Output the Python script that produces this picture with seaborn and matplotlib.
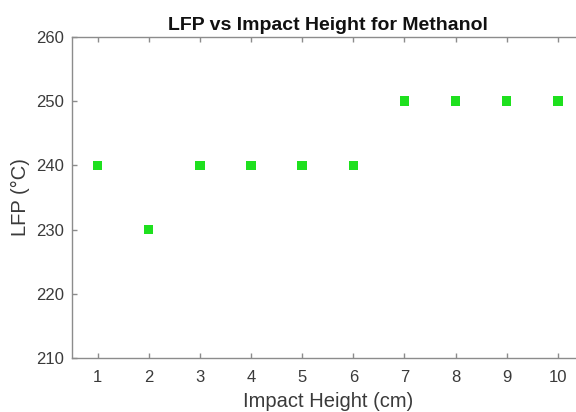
import matplotlib
matplotlib.use("Agg")
import matplotlib.pyplot as plt
import seaborn as sns
import pandas as pd

heights = [1, 2, 3, 4, 5, 6, 7, 8, 9, 10]
lfp = [240, 230, 240, 240, 240, 240, 250, 250, 250, 250]
x_ticks = [1, 2, 3, 4, 5, 6, 7, 8, 9, 10]
y_ticks = [210, 220, 230, 240, 250, 260]

sns.set_style("white")
plt.rcParams['font.family'] = ['Liberation Sans', 'DejaVu Sans']

df = pd.DataFrame({"h": heights, "lfp": lfp})

fig = plt.figure(figsize=(5.76, 4.12), dpi=100)
ax = fig.add_axes([72/576, 1-358/412, (583.5-72)/576, (358-37)/412])

sns.scatterplot(data=df, x="h", y="lfp", marker="s", s=46, color="#1ee01e",
                edgecolor="none", linewidth=0, ax=ax)

ax.set_xlim(0.5, 10.5)
ax.set_ylim(210, 260)
ax.set_xticks(x_ticks)
ax.set_yticks(y_ticks)

spine_c = "#8c8c8c"
for s in ax.spines.values():
    s.set_color(spine_c)
    s.set_linewidth(1.0)
ax.spines["right"].set_visible(False)
ax.tick_params(direction="in", length=3.5, width=1, color=spine_c,
               labelsize=12, labelcolor="#3a3a3a", top=True, right=False,
               bottom=True, left=True)
ax.tick_params(axis="x", pad=9)
ax.tick_params(axis="y", pad=6)

ax.set_xlabel("Impact Height (cm)", fontsize=14.5, color="#3a3a3a", labelpad=5)
ax.set_ylabel("LFP (°C)", fontsize=14.5, color="#3a3a3a", labelpad=4)
ax.set_title("LFP vs Impact Height for Methanol", fontsize=14, fontweight="bold",
             color="#111111", pad=5)

fig.savefig("out.png", dpi=100)
